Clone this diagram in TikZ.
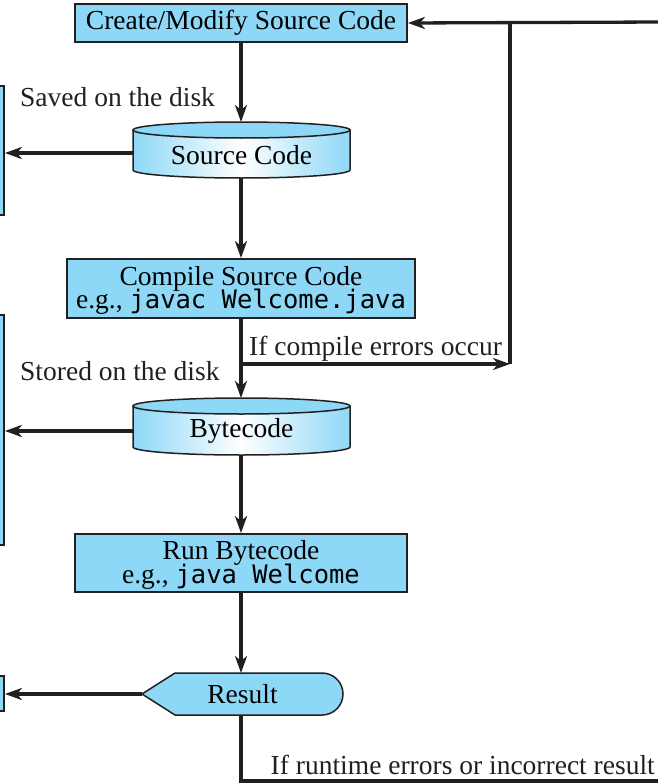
\documentclass[tikz,border=0pt]{standalone}
\usepackage{fontspec}
\setmainfont{Liberation Serif}
\newfontfamily\monofnt{DejaVu Sans Mono}
\usetikzlibrary{arrows.meta}
\definecolor{boxblue}{RGB}{142,216,247}
\definecolor{ink}{RGB}{35,31,32}
\tikzset{
  proc/.style={draw=ink, line width=1.8pt, fill=boxblue, inner sep=0pt, align=center,
    font=\fontsize{27.5}{24}\selectfont},
  holder/.style={draw=none, inner sep=0pt, font=\fontsize{27.5}{24}\selectfont},
  lbl/.style={inner sep=0pt, font=\fontsize{27.5}{24}\selectfont, text=ink},
  wire/.style={draw=ink, line width=3.3pt},
  flow/.style={wire, -{Stealth[length=17pt,width=12pt,inset=5pt]}},
  cylbody/.style={draw=ink, line width=1.5pt, left color=boxblue, right color=boxblue, middle color=white},
  cyltop/.style={draw=ink, line width=1.5pt, fill=boxblue},
}
\newcommand{\mycyl}[3]{% cx, top, bottom
  \path[cylbody] (#1-108.5,#2+8) -- (#1-108.5,#3-8)
     arc[start angle=180,end angle=0,x radius=108.5,y radius=8]
     -- (#1+108.5,#2+8) -- cycle;
  \path[cyltop] (#1,#2+8) ellipse[x radius=108.5,y radius=8];
}
\newcommand{\twolines}[3]{% shift, line1, line2
  \raisebox{#1}[\height][\depth]{\begin{tabular}{@{}c@{}}#2\\[-3pt]#3\end{tabular}}}
\begin{document}
\begin{tikzpicture}[x=1pt,y=-1pt]
\useasboundingbox (0,0) rectangle (658,784);
\clip (0,0) rectangle (658,784);

% left partial boxes
\node[proc, minimum width=68pt, minimum height=129pt] (disk1) at (-30,150.5) {};
\node[proc, minimum width=68pt, minimum height=230pt] (disk2) at (-30,430) {};
\node[proc, minimum width=68pt, minimum height=35pt] (disk3) at (-30,693.5) {};

% process boxes
\node[proc, minimum width=332pt, minimum height=38pt] (create) at (241,23) {Create/Modify Source Code};
\node[proc, minimum width=348pt, minimum height=59pt] (compile) at (241,288.5)
  {\twolines{-2.5pt}{Compile Source Code}{e.g., {\monofnt\fontsize{25.5}{24}\selectfont javac Welcome.java}}};
\node[proc, minimum width=332pt, minimum height=58pt] (run) at (241,563)
  {\twolines{-2.5pt}{Run Bytecode}{e.g., {\monofnt\fontsize{25.5}{24}\selectfont java Welcome}}};

% cylinders
\mycyl{241.5}{122}{178}
\node[holder, minimum width=217pt, minimum height=56pt] (src) at (241.5,150)
  {\raisebox{-5pt}[\height][\depth]{Source Code}};
\mycyl{241.5}{398}{455}
\node[holder, minimum width=217pt, minimum height=57pt] (byte) at (241.5,426.5)
  {\raisebox{-4.5pt}[\height][\depth]{Bytecode}};

% result display shape
\path[draw=ink, line width=1.5pt, fill=boxblue]
  (142,694) -- (175,673) -- (322,673)
  arc[start angle=-90,end angle=90,x radius=21,y radius=21]
  -- (175,715) -- cycle;
\node[holder, minimum width=201pt, minimum height=42pt] (res) at (242.5,694) {Result};

% labels
\node[lbl, anchor=base west] (saved) at (20,106.5) {Saved on the disk};
\node[lbl, anchor=base west] (stored) at (20,380) {Stored on the disk};
\node[lbl, anchor=base west] (cerr) at (249,355) {If compile errors occur};
\node[lbl, anchor=base east] (rerr) at (655,774) {If runtime errors or incorrect result};

% coordinates
\coordinate (br) at (241,364);
\coordinate (ret) at (510,364);
\coordinate (rtop) at (662,22);
\coordinate (rbot) at (662,781);

% connectors
\draw[flow] (create.south) -- (create.south |- 0,122);
\draw[flow] (241,178) -- (compile.north);
\draw[flow] (compile.south) -- (241,398);
\draw[flow] (241,455) -- (run.north);
\draw[flow] (run.south) -- (241,673);
\draw[flow] (br) -- (ret);
\draw[wire] (ret) -- (510,22);
\draw[flow] (rtop) -- (create.east);
\draw[wire] (241,715) |- (rbot);

\draw[flow] ([yshift=-3pt]src.west) -- ([yshift=-3pt]src.west -| disk1.east);
\draw[flow] ([yshift=-4.5pt]byte.west) -- ([yshift=-4.5pt]byte.west -| disk2.east);
\draw[flow] (res.west) -- (res.west -| disk3.east);
\end{tikzpicture}
\end{document}
